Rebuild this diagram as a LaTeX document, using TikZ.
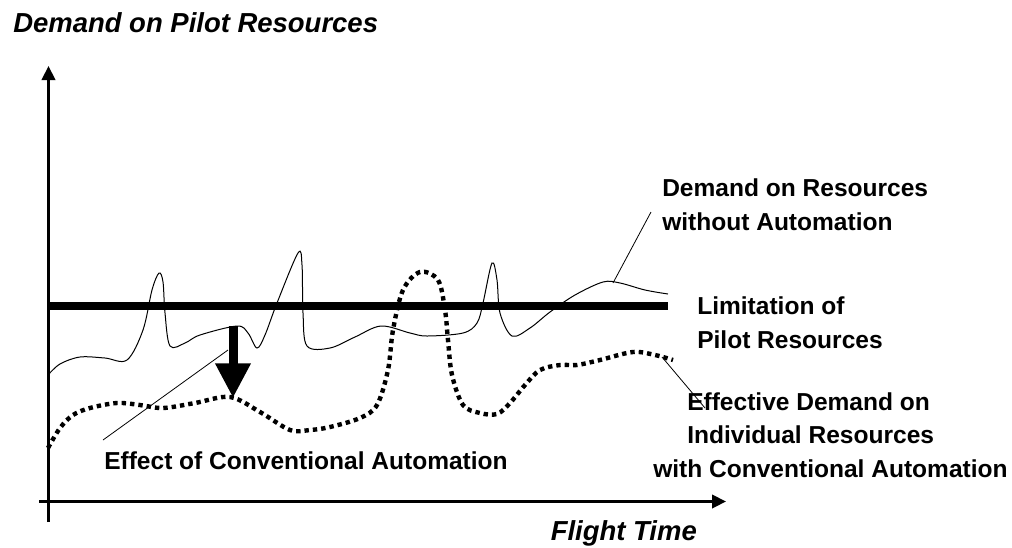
\documentclass[tikz,border=0pt]{standalone}
\usepackage{fontspec}
\setmainfont{Liberation Sans}
\usetikzlibrary{arrows.meta}
\begin{document}
\begin{tikzpicture}[x=0.75pt,y=-0.75pt,
  axis/.style={line width=2.2pt,-{Triangle[length=10.5pt,width=10pt]}},
  limline/.style={line width=5.4pt},
  rawcurve/.style={line width=0.75pt},
  effcurve/.style={line width=3.3pt,dash pattern=on 3.3pt off 3pt},
  leader/.style={line width=0.6pt},
  bigarrow/.style={line width=6.75pt,-{Triangle[length=26pt,width=25pt]}},
  lbl/.style={font=\fontsize{18.4}{24.9}\selectfont\bfseries,inner sep=0pt},
  ttl/.style={font=\fontsize{20.6}{24}\selectfont\bfseries\itshape,inner sep=0pt}]
\useasboundingbox (0,0) rectangle (1012,547);
% axes
\coordinate (yb) at (48.5,522);
\coordinate (yt) at (48.5,66);
\coordinate (xl) at (39,501.5);
\coordinate (xr) at (726,501.5);
\draw[axis] (yb) -- (yt);
\draw[axis] (xl) -- (xr);
% limitation line
\coordinate (l1) at (48,306);
\coordinate (l2) at (668,306);
\draw[limline] (l1) -- (l2);
% demand without automation
\draw[rawcurve] plot[smooth,tension=0.55] coordinates {
 (48,375) (60,364) (80,357) (105,358) (127,360) (143,330) (152,290) (159,273)
 (163,282) (165,313) (170,346) (185,343) (200,335) (237,326) (248,333) (257,348)
 (265,335) (277,303) (298,253) (302,265) (303,313) (307,346) (330,348) (355,337)
 (381,326) (410,333) (427,336) (463,333) (477,323) (483,303) (492,263) (497,280)
 (500,313) (512,336) (530,328) (550,312) (575,295) (603,282) (620,283) (645,290) (668,294)};
% effective demand
\draw[effcurve] plot[smooth,tension=0.55] coordinates {
 (48,448) (60,428) (73,415) (90,408) (117,403) (140,405) (163,408) (195,403)
 (230,397) (260,412) (290,430) (310,430) (330,427) (360,418) (377,405) (388,370)
 (393,330) (403,290) (420,272) (438,280) (445,310) (448,340) (452,375) (463,405)
 (480,413) (497,414) (510,403) (525,385) (540,370) (560,365) (577,365) (600,360)
 (633,352) (655,355) (673,360)};
% effect arrow
\coordinate (a1) at (233,326);
\coordinate (a2) at (233,398);
\draw[bigarrow] (a1) -- (a2);
% labels
\node[ttl,anchor=base west] (title) at (13,32) {Demand on Pilot Resources};
\node[ttl,anchor=base east] (ftime) at (697,540) {Flight Time};
\node[lbl,anchor=base west,align=left] (dwo) at (662,230) {Demand on Resources\\without Automation};
\node[lbl,anchor=base west,align=left] (lim) at (697,348) {Limitation of\\Pilot Resources};
\node[lbl,anchor=base west,align=left,font=\fontsize{18.4}{25.1}\selectfont\bfseries] (eff) at (653,477) {\hspace*{25.5pt}Effective Demand on\\\hspace*{25.5pt}Individual Resources\\with Conventional Automation};
\node[lbl,anchor=base west] (ecl) at (104,469) {Effect of Conventional Automation};
% leaders
\coordinate (p1) at (613,283);
\coordinate (p2) at (651,212);
\draw[leader] (p1) -- (p2);
\coordinate (p3) at (662,357);
\coordinate (p4) at (705,408);
\draw[leader] (p3) -- (p4);
\coordinate (p5) at (103,440);
\coordinate (p6) at (228,350);
\draw[leader] (p5) -- (p6);
\end{tikzpicture}
\end{document}
